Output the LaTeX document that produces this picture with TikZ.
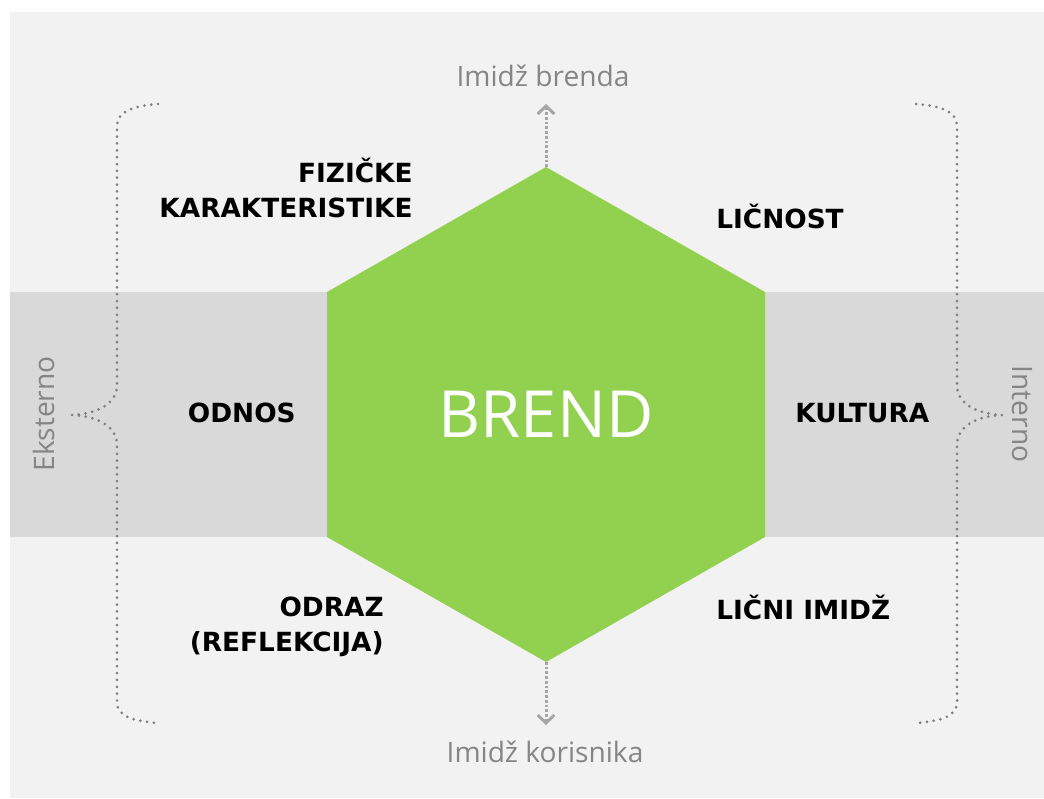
\documentclass[tikz,border=0pt]{standalone}
\usepackage{fontspec}
\setmainfont{Open Sans}
\newfontfamily\facetfont{DejaVu Sans}
\usetikzlibrary{arrows.meta}
\usetikzlibrary{positioning}

\definecolor{bggray}{HTML}{F2F2F2}
\definecolor{bandgray}{HTML}{D9D9D9}
\definecolor{brendgreen}{HTML}{92D050}
\definecolor{labelgray}{HTML}{858585}
\definecolor{dotgray}{HTML}{7F7F7F}
\definecolor{arrowgray}{HTML}{A6A6A6}

\tikzset{
	facet/.style={font=\facetfont\bfseries\fontsize{15}{19.8}\selectfont, text=black, inner sep=0pt},
	side/.style={font=\fontsize{16}{18}\selectfont, text=labelgray, inner sep=0pt},
	brace/.style={draw=dotgray, line width=1.7pt, line cap=round, dash pattern=on 0pt off 3.9pt},
	imgarrow/.style={draw=arrowgray, line width=1.7pt, dash pattern=on 1.5pt off 1.2pt,
		-{Straight Barb[length=4.5pt,width=9.5pt,line width=1.7pt]}},
}

\begin{document}
\begin{tikzpicture}[x=0.02cm, y=-0.02cm]
		
		\useasboundingbox (0,0) rectangle (1044,798);
		\fill[bggray] (10,12) rectangle (1044,798);
		\fill[bandgray] (10,292) rectangle (1044,537);
		
		% hexagon
		\coordinate (top) at (546,167);
		\coordinate (ur) at (765,292);
		\coordinate (lr) at (765,537);
		\coordinate (bot) at (546,662);
		\coordinate (ll) at (327,537);
		\coordinate (ul) at (327,292);
		\fill[brendgreen] (top) -- (ur) -- (lr) -- (bot) -- (ll) -- (ul) -- cycle;
		\node[text=white, font=\fontsize{37}{40}\selectfont, inner sep=0pt](brend) at (546,414){BREND};
		
		% facets
		\node[facet, align=right, anchor=east](fizicke) at (413,188){FIZIČKE\\KARAKTERISTIKE};
		\node[facet, anchor=west](licnost) at (716,216){LIČNOST};
		\node[facet, anchor=east](odnos) at (296,413){ODNOS};
		\node[facet, anchor=west](kultura) at (795,413){KULTURA};
		\node[facet, align=right, anchor=east](odraz) at (384,627){ODRAZ\\(REFLEKCIJA)};
		\node[facet, anchor=west](licniimidz) at (716,607){LIČNI IMIDŽ};
		
		% images
		\node[side](brenda) at (543,76){Imidž brenda};
		\node[side](korisnika) at (545,752){Imidž korisnika};
		\coordinate (brendatip) at (546,104);
		\coordinate (korisnikatip) at (546,725);
		\draw[imgarrow] (top) -- (brendatip);
		\draw[imgarrow] (bot) -- (korisnikatip);
		
		% eksterno / interno
		\node[side, rotate=90](eksterno) at (44,414){Eksterno};
		\node[side, rotate=-90](interno) at (1022,414){Interno};
		
		\draw[brace] (158,104) .. controls (132,106) and (117,112) .. (117,126) -- (117,385)
			.. controls (117,405) and (95,414) .. (72,415)
			.. controls (95,416) and (117,425) .. (117,445) -- (117,702)
			.. controls (117,716) and (132,721) .. (158,723);
		\draw[brace] (916,104) .. controls (942,106) and (957,112) .. (957,126) -- (957,385)
			.. controls (957,405) and (979,414) .. (1002,415)
			.. controls (979,416) and (957,425) .. (957,445) -- (957,702)
			.. controls (957,716) and (942,721) .. (916,723);
		
	\end{tikzpicture}
\end{document}
